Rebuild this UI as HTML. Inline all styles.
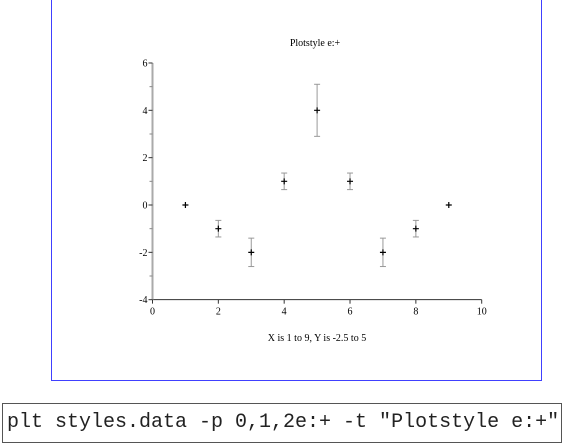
<!DOCTYPE html>
<html><head><meta charset="utf-8"><style>
body{margin:0;width:564px;height:444px;background:#fff;position:relative;overflow:hidden}
#frame{position:absolute;left:51px;top:-1px;width:489px;height:380px;border:1px solid #4040ff}
#cmd{position:absolute;left:2px;top:403px;font:20px "Liberation Mono",monospace;line-height:38px;padding-left:4px;box-sizing:border-box;width:560px;height:40px;white-space:nowrap;border:1px solid #555;color:#222}
svg{position:absolute;left:0;top:0}
</style></head><body>
<div id="frame"></div>
<svg width="564" height="400" id="chart" font-family="Liberation Serif, serif" font-size="10"></svg>
<div id="cmd">plt styles.data -p 0,1,2e:+ -t "Plotstyle e:+"</div>
<script>
const xs=[1,2,3,4,5,6,7,8,9];
const ys=[0,-1,-2,1,4,1,-2,-1,0];
const errs=[0,0.35,0.6,0.35,1.1,0.35,0.6,0.35,0];
const xTicks=[0,2,4,6,8,10];
const yTicks=[-4,-2,0,2,4,6];
const yMinor=[-3,-1,1,3,5];
const NS='http://www.w3.org/2000/svg';
const svg=document.getElementById('chart');
const X=v=>152.5+v*32.92, Y=v=>205+(-v)*23.67;
function el(t,a,p){const e=document.createElementNS(NS,t);for(const k in a)e.setAttribute(k,a[k]);(p||svg).appendChild(e);return e;}
let t=el('text',{x:315,y:46,'text-anchor':'middle'});t.textContent='Plotstyle e:+';


t=el('text',{x:317,y:341,'text-anchor':'middle'});t.textContent='X is 1 to 9, Y is -2.5 to 5';


let a=el('line',{x1:X(0),y1:Y(-4),x2:X(10),y2:Y(-4),stroke:'#333','stroke-width':1});


a=el('line',{x1:X(0),y1:Y(-4),x2:X(0),y2:Y(6),stroke:'#aaa','stroke-width':2});


xTicks.forEach(v=>{el('line',{x1:X(v),y1:Y(-4),x2:X(v),y2:Y(-4)+4,stroke:'#333'});
 const l=el('text',{x:X(v),y:Y(-4)+15,'text-anchor':'middle'});l.textContent=v;
 
 });
yTicks.forEach(v=>{el('line',{x1:X(0)-4,y1:Y(v),x2:X(0),y2:Y(v),stroke:'#333'});
 const l=el('text',{x:X(0)-5,y:Y(v)+3.5,'text-anchor':'end'});l.textContent=v;
 
 });
yMinor.forEach(v=>el('line',{x1:X(0)-3,y1:Y(v),x2:X(0),y2:Y(v),stroke:'#888'}));
xs.forEach((x,i)=>{const cx=X(x),cy=Y(ys[i]);
 if(errs[i]>0){const g=el('g',{stroke:'#999','stroke-width':1});
  
  
  const t1=Y(ys[i]+errs[i]),b1=Y(ys[i]-errs[i]);
  el('line',{x1:cx,y1:t1,x2:cx,y2:b1},g);el('line',{x1:cx-3,y1:t1,x2:cx+3,y2:t1},g);el('line',{x1:cx-3,y1:b1,x2:cx+3,y2:b1},g);}
 const p=el('path',{d:`M${cx-3} ${cy}H${cx+3}M${cx} ${cy-3}V${cy+3}`,stroke:'#000','stroke-width':1.2});
 
 });
</script>
</body></html>
